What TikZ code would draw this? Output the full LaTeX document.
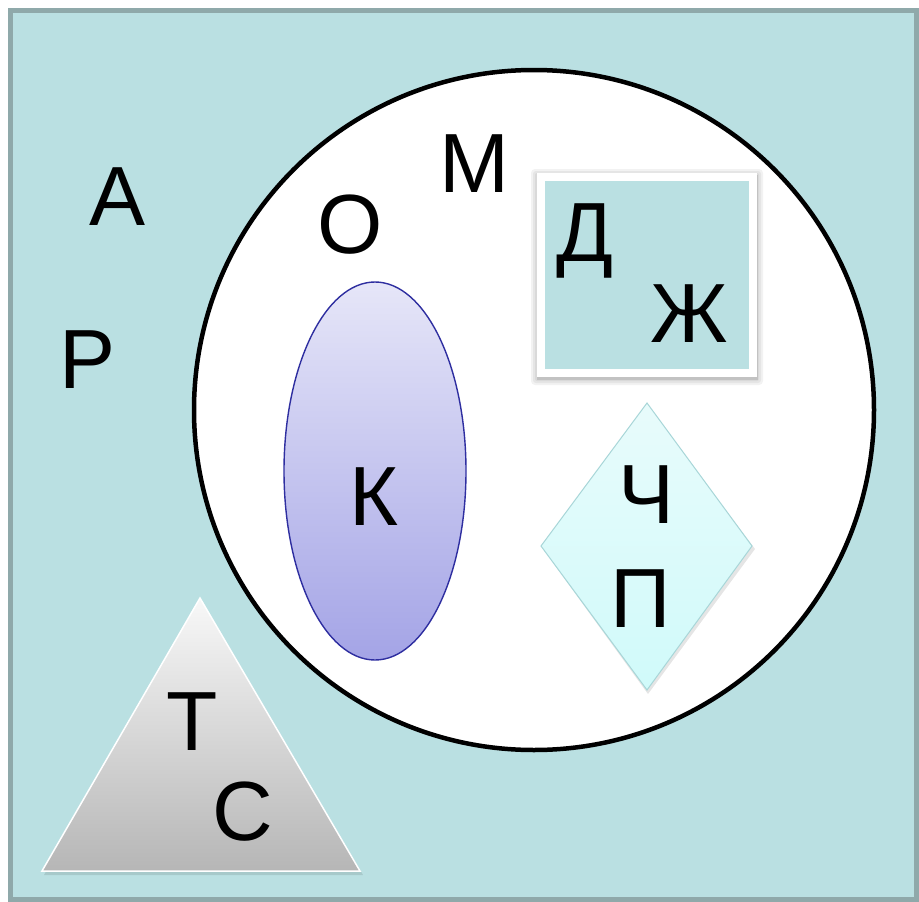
\documentclass[tikz,border=0pt]{standalone}
\usepackage{fontspec}
\setmainfont{Liberation Sans}
\definecolor{bgteal}{HTML}{BAE0E2}
\definecolor{frame}{HTML}{8FA9AA}
\definecolor{elltop}{HTML}{E6E6F8}
\definecolor{ellbot}{HTML}{A4A4E6}
\definecolor{elledge}{HTML}{2E2EA0}
\definecolor{diatop}{HTML}{E8FBFB}
\definecolor{diabot}{HTML}{D0FAFA}
\definecolor{diaedge}{HTML}{A8D6D8}
\definecolor{tritop}{HTML}{F8F8F8}
\definecolor{tribot}{HTML}{B6B6B6}
\tikzset{
  letter/.style={anchor=base, inner sep=0pt, font=\fontsize{84}{84}\selectfont},
  glow/.style={black, opacity=0.05}
}
\begin{document}
\begin{tikzpicture}[x=1pt,y=-1pt]
\useasboundingbox (0,0) rectangle (919,902);
% outer frame
\draw[frame, line width=5pt, fill=bgteal] (10.5,10.5) rectangle (916.5,899.5);
% big circle
\draw[black, line width=4.5pt, fill=white] (534,410) circle[radius=340pt];
% ellipse
\shade[top color=elltop, bottom color=ellbot] (375,471) ellipse[x radius=91pt, y radius=189pt];
\draw[elledge, line width=1.4pt] (375,471) ellipse[x radius=91pt, y radius=189pt];
% box soft shadow
\fill[glow, rounded corners=4pt] (531,169) rectangle (763,385);
\fill[glow, rounded corners=3pt] (533,171) rectangle (761,383);
\fill[glow, rounded corners=2pt] (535,173) rectangle (759,381);
\fill[black, opacity=0.10] (537,175) rectangle (758,380);
% box
\draw[white, line width=8pt, fill=bgteal] (541,176.5) rectangle (753,372.5);
% diamond shadow
\fill[black, opacity=0.10] (648,406) -- (755,549) -- (648,694) -- (543,549) -- cycle;
\shade[top color=diatop, bottom color=diabot] (647,403) -- (752,546) -- (647,690) -- (541,546) -- cycle;
\draw[diaedge, line width=1pt] (647,403) -- (752,546) -- (647,690) -- (541,546) -- cycle;
% triangle shadow
\fill[black, opacity=0.10] (201,601) -- (363,875) -- (44,875) -- cycle;
\shade[top color=tritop, bottom color=tribot] (200,598) -- (360,871) -- (42,871) -- cycle;
\draw[white, line width=1.5pt] (200,598) -- (360,871) -- (42,871) -- cycle;
% letters
\node[letter] (A) at (118,225) {А};
\node[letter] (R) at (88,388) {Р};
\node[letter] (O) at (350,253) {О};
\node[letter] (M) at (474,192) {М};
\node[letter] (D) at (585,261) {Д};
\node[letter] (Zh) at (689,342) {Ж};
\node[letter] (K) at (374,525) {К};
\node[letter] (Ch) at (646,523) {Ч};
\node[letter] (P) at (641,627) {П};
\node[letter] (T) at (192,750) {Т};
\node[letter] (S) at (243,840) {С};
\end{tikzpicture}
\end{document}
